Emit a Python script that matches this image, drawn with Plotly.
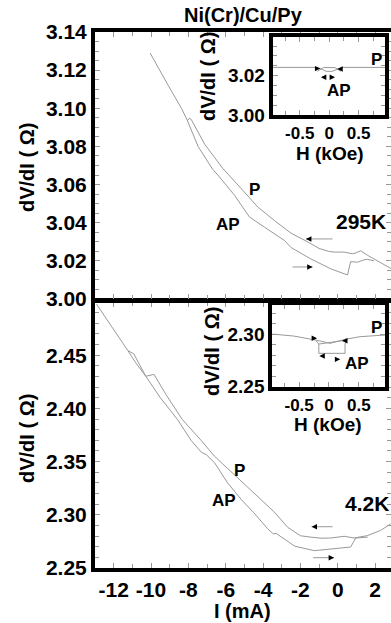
import plotly.graph_objects as go

W, H = 391, 623

# ---------------- data ----------------
# 295 K, main panel: dV/dI vs I
top_P_I = [-10.05, -9.6, -9.08, -8.37, -8.05, -7.95, -7.85, -7.13, -6.15, -5.17, -4.28, -3.4,
           -2.5, -1.62, -1.0, -0.5, -0.2, 0.34, 0.78, 1.0, 1.23, 1.58, 1.94, 2.4, 2.85]
top_P_V = [3.129, 3.121, 3.112, 3.100, 3.0935, 3.0948, 3.0942, 3.0812, 3.0684, 3.0579, 3.0482, 3.0412,
           3.0345, 3.0300, 3.0265, 3.0250, 3.0246, 3.0246, 3.0237, 3.0243, 3.0253, 3.0230, 3.0210, 3.0185, 3.0160]
top_AP_I = [-8.05, -7.48, -6.7, -6.42, -5.53, -5.0, -4.73, -3.93, -2.86, -2.5, -1.44, -0.37,
            0.52, 0.69, 1.05, 1.4, 1.58, 1.94]
top_AP_V = [3.0935, 3.0800, 3.0680, 3.0650, 3.0544, 3.0465, 3.0430, 3.0377, 3.0307, 3.0270, 3.0210, 3.0158,
            3.0126, 3.0196, 3.0193, 3.0205, 3.0208, 3.0200]

# 4.2 K, main panel
bot_P_I = [-12.92, -12.0, -11.24, -10.92, -10.37, -10.28, -9.84, -9.2, -8.33, -7.84, -7.3, -6.6,
           -5.5, -4.28, -3.4, -2.68, -2.0, -1.44, -0.9, -0.37, 0.34, 0.87, 1.58, 2.29, 2.83]
bot_P_V = [2.498, 2.474, 2.4543, 2.4512, 2.4333, 2.4302, 2.4320, 2.4130, 2.3897, 2.3806, 2.3696, 2.3550,
           2.3370, 2.3164, 2.3026, 2.2882, 2.2803, 2.2790, 2.2780, 2.2782, 2.2798, 2.2782, 2.2804, 2.2853, 2.2914]
bot_AP_I = [-11.24, -10.82, -10.28, -9.5, -8.59, -7.84, -7.3, -7.04, -6.6, -5.9, -5.17, -4.5,
            -3.75, -3.45, -3.3, -2.3, -1.26, -0.37, 0.52, 0.69, 0.96, 1.14, 1.6]
bot_AP_V = [2.4543, 2.4429, 2.4302, 2.4100, 2.3897, 2.3696, 2.3587, 2.3565, 2.3490, 2.3300, 2.3144, 2.3020,
            2.2868, 2.2820, 2.2825, 2.2705, 2.2663, 2.2679, 2.2695, 2.2697, 2.2782, 2.2785, 2.2790]

# 295 K inset: dV/dI vs H
ins_top_a_H = [-0.96, -0.22, -0.15, -0.05, 0.05, 0.15, 0.22, 0.95]
ins_top_a_V = [3.0242, 3.0242, 3.0236, 3.0222, 3.0222, 3.0236, 3.0242, 3.0242]
ins_top_b_H = [-0.2, -0.1, 0.1, 0.2]
ins_top_b_V = [3.0222, 3.0241, 3.0241, 3.0222]

# 4.2 K inset
ins_bot_a_H = [-0.95, -0.59, -0.23, 0.02, 0.27, 0.52, 0.94]
ins_bot_a_V = [2.3000, 2.2981, 2.2944, 2.2912, 2.2950, 2.2975, 2.2991]
ins_bot_b_H = [-0.22, -0.17, -0.17, 0.27, 0.27, 0.30]
ins_bot_b_V = [2.2940, 2.2905, 2.2817, 2.2817, 2.2905, 2.2945]
ins_bot_c_H = [-0.17, 0.27]
ins_bot_c_V = [2.2905, 2.2940]

# tick labels
main_x_ticks = [-12, -10, -8, -6, -4, -2, 0, 2]
main_x_text = ['-12', '-10', '-8', '-6', '-4', '-2', '0', '2']
top_y_ticks = [3.00, 3.02, 3.04, 3.06, 3.08, 3.10, 3.12, 3.14]
top_y_text = ['3.00', '3.02', '3.04', '3.06', '3.08', '3.10', '3.12', '3.14']
bot_y_ticks = [2.25, 2.30, 2.35, 2.40, 2.45]
bot_y_text = ['2.25', '2.30', '2.35', '2.40', '2.45']
ins_x_ticks = [-0.5, 0, 0.5]
ins_x_text = ['-0.5', '0', '0.5']
ins_top_y_ticks = [3.00, 3.02]
ins_top_y_text = ['3.00', '3.02']
ins_bot_y_ticks = [2.25, 2.30]
ins_bot_y_text = ['2.25', '2.30']

# arrows: (tail_x, tail_y, head_x, head_y)
top_arrows = [(-0.2, 3.0315, -1.7, 3.0315), (-2.5, 3.0168, -1.35, 3.0168)]
bot_arrows = [(-0.2, 2.2888, -1.4, 2.2888), (-1.4, 2.2597, -0.2, 2.2597)]
ins_top_heads = [(-0.15, 3.0236, 1), (0.14, 3.0234, -1), (-0.14, 3.0192, -1), (0.10, 3.0192, 1)]
ins_bot_heads = [(-0.20, 2.2960, 1), (0.22, 2.2937, -1), (-0.16, 2.2792, -1), (0.19, 2.2760, 1)]

FONT = 'Liberation Sans, Arial, Helvetica, sans-serif'
GRAY = '#999999'


def xd(px):
    return px / W


def yd(py):
    return 1 - py / H


fig = go.Figure()
line = dict(color=GRAY, width=1)
fig.add_trace(go.Scatter(x=top_P_I, y=top_P_V, mode='lines', line=line, xaxis='x2', yaxis='y2'))
fig.add_trace(go.Scatter(x=top_AP_I, y=top_AP_V, mode='lines', line=line, xaxis='x2', yaxis='y2'))
fig.add_trace(go.Scatter(x=bot_P_I, y=bot_P_V, mode='lines', line=line, xaxis='x', yaxis='y'))
fig.add_trace(go.Scatter(x=bot_AP_I, y=bot_AP_V, mode='lines', line=line, xaxis='x', yaxis='y'))
fig.add_trace(go.Scatter(x=ins_top_a_H, y=ins_top_a_V, mode='lines', line=line, xaxis='x3', yaxis='y3'))
fig.add_trace(go.Scatter(x=ins_top_b_H, y=ins_top_b_V, mode='lines', line=line, xaxis='x3', yaxis='y3'))
fig.add_trace(go.Scatter(x=ins_bot_a_H, y=ins_bot_a_V, mode='lines', line=line, xaxis='x4', yaxis='y4'))
fig.add_trace(go.Scatter(x=ins_bot_b_H, y=ins_bot_b_V, mode='lines', line=line, xaxis='x4', yaxis='y4'))
fig.add_trace(go.Scatter(x=ins_bot_c_H, y=ins_bot_c_V, mode='lines', line=line, xaxis='x4', yaxis='y4'))

tickfont = dict(family=FONT, size=21, color='black', weight='bold')
insytickfont = dict(family=FONT, size=19, color='black', weight='bold')
insxtickfont = dict(family=FONT, size=17, color='black', weight='bold')


def ax_common(**kw):
    d = dict(showline=True, linewidth=4, linecolor='black', mirror='ticks', ticks='inside',
             ticklen=5, tickwidth=1, tickcolor='#999', showgrid=False, zeroline=False,
             tickmode='array', automargin=False)
    d.update(kw)
    return d


main_xdom = [xd(95), 1.0]
layout = dict(
    width=W, height=H, margin=dict(l=0, r=0, t=0, b=0, autoexpand=False),
    paper_bgcolor='white', plot_bgcolor='white', showlegend=False,
    xaxis=ax_common(domain=main_xdom, range=[-13, 2.85], anchor='y',
                    tickvals=main_x_ticks, ticktext=main_x_text, tickfont=tickfont,
                    minor=dict(tickmode='linear', tick0=0, dtick=1, ticks='inside', ticklen=4, tickcolor='#999')),
    yaxis=ax_common(domain=[yd(568), yd(302)], range=[2.25, 2.50], anchor='x',
                    tickvals=bot_y_ticks, ticktext=bot_y_text, tickfont=tickfont,
                    minor=dict(tickmode='linear', tick0=2.25, dtick=0.01, ticks='inside', ticklen=4, tickcolor='#999')),
    xaxis2=ax_common(domain=main_xdom, range=[-13, 2.85], anchor='y2', showticklabels=False,
                     tickvals=main_x_ticks,
                     minor=dict(tickmode='linear', tick0=0, dtick=1, ticks='inside', ticklen=4, tickcolor='#999')),
    yaxis2=ax_common(domain=[yd(299), yd(32)], range=[3.00, 3.14], anchor='x2',
                     tickvals=top_y_ticks, ticktext=top_y_text, tickfont=tickfont,
                     minor=dict(tickmode='linear', tick0=3.0, dtick=0.005, ticks='inside', ticklen=4, tickcolor='#999')),
    xaxis3=ax_common(domain=[xd(272.7), xd(385)], range=[-0.96, 0.95], anchor='y3',
                     tickvals=ins_x_ticks, ticktext=ins_x_text, tickfont=insxtickfont,
                     minor=dict(tickmode='linear', tick0=0, dtick=0.25, ticks='inside', ticklen=4, tickcolor='#999')),
    yaxis3=ax_common(domain=[yd(115), yd(37.3)], range=[3.00, 3.0395], anchor='x3',
                     tickvals=ins_top_y_ticks, ticktext=ins_top_y_text, tickfont=insytickfont,
                     minor=dict(tickmode='linear', tick0=3.0, dtick=0.005, ticks='inside', ticklen=4, tickcolor='#999')),
    xaxis4=ax_common(domain=[xd(272.3), xd(385)], range=[-0.95, 0.94], anchor='y4',
                     tickvals=ins_x_ticks, ticktext=ins_x_text, tickfont=insxtickfont,
                     minor=dict(tickmode='linear', tick0=0, dtick=0.25, ticks='inside', ticklen=4, tickcolor='#999')),
    yaxis4=ax_common(domain=[yd(386.7), yd(305)], range=[2.25, 2.3276], anchor='x4',
                     tickvals=ins_bot_y_ticks, ticktext=ins_bot_y_text, tickfont=insytickfont,
                     minor=dict(tickmode='linear', tick0=2.25, dtick=0.01, ticks='inside', ticklen=4, tickcolor='#999')),
)
fig.update_layout(**layout)

ann = []


def text(xr, yr, x, y, s, size, angle=0):
    ann.append(dict(xref=xr, yref=yr, x=x, y=y, text=s, showarrow=False, textangle=angle,
                    font=dict(family=FONT, size=size, color='black', weight='bold'),
                    xanchor='center', yanchor='middle'))


# titles (paper coords from pixel positions)
text('paper', 'paper', xd(243), yd(15), 'Ni(Cr)/Cu/Py', 20)
text('paper', 'paper', xd(242), yd(611), 'I (mA)', 20)
text('paper', 'paper', xd(27), yd(167), 'dV/dI ( Ω)', 20, -90)
text('paper', 'paper', xd(27), yd(438), 'dV/dI ( Ω)', 20, -90)
text('paper', 'paper', xd(208), yd(77), 'dV/dI ( Ω)', 20, -90)
text('paper', 'paper', xd(212), yd(352), 'dV/dI ( Ω)', 20, -90)
text('paper', 'paper', xd(330), yd(153), 'H (kOe)', 19)
text('paper', 'paper', xd(328), yd(424), 'H (kOe)', 19)

# curve labels
text('x2', 'y2', -4.44, 3.0572, 'P', 17)
text('x2', 'y2', -5.88, 3.0388, 'AP', 17)
text('x2', 'y2', 1.23, 3.0404, '295K', 21)
text('x', 'y', -5.24, 2.3415, 'P', 17)
text('x', 'y', -6.1, 2.313, 'AP', 17)
text('x', 'y', 1.55, 2.311, '4.2K', 21)
text('x3', 'y3', 0.81, 3.028, 'P', 17)
text('x3', 'y3', 0.16, 3.0127, 'AP', 17)
text('x4', 'y4', 0.8, 2.3064, 'P', 17)
text('x4', 'y4', 0.47, 2.2722, 'AP', 17)


def arrow(xr, yr, tx, ty, hx, hy, k):
    # gray shaft
    ann.append(dict(xref=xr, yref=yr, axref=xr, ayref=yr, x=hx, y=hy, ax=tx, ay=ty, text='',
                    showarrow=True, arrowhead=0, arrowwidth=1, arrowcolor=GRAY))
    head(xr, yr, hx, hy, 1 if hx > tx else -1, k)


def head(xr, yr, hx, hy, d, k):
    ann.append(dict(xref=xr, yref=yr, axref=xr, ayref=yr, x=hx, y=hy, ax=hx - d * k, ay=hy, text='',
                    showarrow=True, arrowhead=2, arrowsize=0.9, arrowwidth=1.2, arrowcolor='black',
                    standoff=0))


for a in top_arrows:
    arrow('x2', 'y2', *a, 0.25)
for a in bot_arrows:
    arrow('x', 'y', *a, 0.25)
for hx, hy, d in ins_top_heads:
    head('x3', 'y3', hx, hy, d, 0.06)
for hx, hy, d in ins_bot_heads:
    head('x4', 'y4', hx, hy, d, 0.06)

fig.update_layout(annotations=ann)
fig.write_html('out.html')
